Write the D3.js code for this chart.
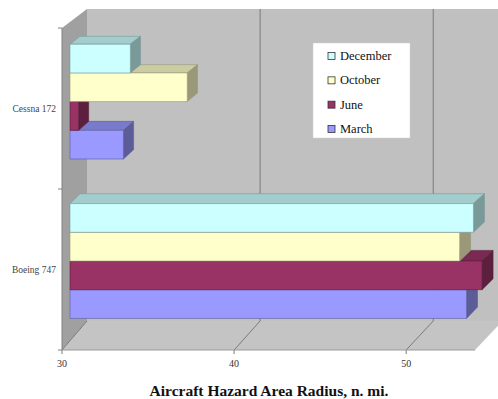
<!DOCTYPE html>
<html><head><meta charset="utf-8">
<script src="https://cdn.jsdelivr.net/npm/d3@7"></script>
<style>html,body{margin:0;padding:0;background:#fff;}svg{display:block;}</style>
</head><body>
<svg id="chart" width="498" height="399"></svg>
<script>
// ---- data ----
const categories = ["Cessna 172", "Boeing 747"];
const series = ["December", "October", "June", "March"];
const cessnaValues = [33.5, 36.8, 30.5, 33.1];   // December, October, June, March
const boeingValues = [53.4, 52.6, 53.9, 53.0];
const tickValues = [30, 40, 50];
const axisTitle = "Aircraft Hazard Area Radius, n. mi.";
const values = { "Cessna 172": cessnaValues, "Boeing 747": boeingValues };

const colors = {
  "December": ["#CCFFFF", "#A3CCCC", "#7A9999"],
  "October":  ["#FFFFCC", "#CCCCA3", "#99997A"],
  "June":     ["#993366", "#7A2952", "#5C1F3D"],
  "March":    ["#9999FF", "#7A7ACC", "#5C5C99"]
};

const svg = d3.select("#chart");

// front-plane scales
const x = d3.scaleLinear().domain([30, 54]).range([62, 475]);
const y0 = d3.scaleBand().domain(categories).range([28, 350]).padding(0);
const y1 = d3.scaleBand().domain(series).range([0, y0.bandwidth()]).paddingInner(0).paddingOuter(0.776);

// pseudo-3D projection: t = depth (0 front, 1 back)
function P(xf, yf, t) {
  const bx = 87 + (xf - 62) * 1.006;
  const by = -18.13 + 0.9689 * yf;
  return [xf + t * (bx - xf), yf + t * (by - yf)];
}
const poly = pts => pts.map(p => p.join(",")).join(" ");

const X0 = x.range()[0], X1 = x.range()[1];
const Y0 = y0.range()[0], Y1 = y0.range()[1];

// back wall
svg.append("polygon").attr("points", poly([P(X0,Y0,1),P(X1,Y0,1),P(X1,Y1,1),P(X0,Y1,1)]))
  .attr("fill", "#C0C0C0");
// left wall
svg.append("polygon").attr("points", poly([P(X0,Y0,0),P(X0,Y0,1),P(X0,Y1,1),P(X0,Y1,0)]))
  .attr("fill", "#A0A0A0");
// floor
svg.append("polygon").attr("points", poly([P(X0,Y1,0),P(X1,Y1,0),P(X1,Y1,1),P(X0,Y1,1)]))
  .attr("fill", "#C4C4C4");

// gridlines on back wall and floor
tickValues.forEach(v => {
  if (v > 30) {
    const a = P(x(v), Y0, 1), b = P(x(v), Y1, 1);
    svg.append("line").attr("x1", a[0]).attr("y1", a[1]).attr("x2", b[0]).attr("y2", b[1])
      .attr("stroke", "#7A7A7A").attr("stroke-width", 1);
  }
  const c = P(x(v), Y1, 0), d = P(x(v), Y1, 1);
  svg.append("line").attr("x1", c[0]).attr("y1", c[1]).attr("x2", d[0]).attr("y2", d[1])
    .attr("stroke", "#7A7A7A").attr("stroke-width", 1);
  svg.append("line").attr("x1", x(v)).attr("y1", Y1).attr("x2", x(v)).attr("y2", Y1 + 4)
    .attr("stroke", "#7A7A7A").attr("stroke-width", 1);
  svg.append("text").attr("x", x(v)).attr("y", Y1 + 17).attr("text-anchor", "middle")
    .attr("font-family", "Liberation Serif, serif").attr("font-size", 10).attr("fill", "#333")
    .text(v);
});

// floor front edge & left edge
svg.append("line").attr("x1", X0).attr("y1", Y1).attr("x2", X1).attr("y2", Y1)
  .attr("stroke", "#9a9a9a").attr("stroke-width", 1);
svg.append("line").attr("x1", X0).attr("y1", Y0).attr("x2", X0).attr("y2", Y1)
  .attr("stroke", "#808080").attr("stroke-width", 1);

// category ticks and labels
[Y0, Y0 + y0.bandwidth(), Y1].forEach(yy => {
  svg.append("line").attr("x1", X0 - 4).attr("y1", yy).attr("x2", X0).attr("y2", yy)
    .attr("stroke", "#808080");
});
categories.forEach(c => {
  svg.append("text").attr("x", 56).attr("y", y0(c) + y0.bandwidth() / 2 + 3)
    .attr("text-anchor", "end").attr("font-family", "Liberation Serif, serif")
    .attr("font-size", 9.5).attr("fill", "#444").text(c);
});

// bars
const t0 = 0.32, t1 = 0.72;
const drawOrder = series.slice().reverse(); // bottom bar first
categories.forEach(c => {
  drawOrder.forEach(s => {
    const v = values[c][series.indexOf(s)];
    const yt = y0(c) + y1(s), yb = yt + y1.bandwidth();
    const xa = x(30), xb = x(v);
    const [cf, ct, cs] = colors[s];
    const g = svg.append("g");
    g.append("polygon").attr("points", poly([P(xa,yt,t0),P(xb,yt,t0),P(xb,yt,t1),P(xa,yt,t1)]))
      .attr("fill", ct).attr("stroke", cs).attr("stroke-width", 0.6);
    g.append("polygon").attr("points", poly([P(xb,yt,t0),P(xb,yt,t1),P(xb,yb,t1),P(xb,yb,t0)]))
      .attr("fill", cs).attr("stroke", cs).attr("stroke-width", 0.6);
    g.append("polygon").attr("points", poly([P(xa,yt,t0),P(xb,yt,t0),P(xb,yb,t0),P(xa,yb,t0)]))
      .attr("fill", cf).attr("stroke", cs).attr("stroke-width", 0.6);
  });
});

// legend
const lg = svg.append("g");
lg.append("rect").attr("x", 313).attr("y", 43).attr("width", 97).attr("height", 95)
  .attr("fill", "#fff").attr("stroke", "#d0d0d0").attr("stroke-width", 0.5);
const ly = d3.scalePoint().domain(series).range([56, 129]);
series.forEach(s => {
  lg.append("rect").attr("x", 328).attr("y", ly(s) - 3.5).attr("width", 7).attr("height", 7)
    .attr("fill", colors[s][0]).attr("stroke", "#333").attr("stroke-width", 0.8);
  lg.append("text").attr("x", 340).attr("y", ly(s) + 4)
    .attr("font-family", "Liberation Serif, serif").attr("font-size", 12.5).attr("fill", "#111")
    .text(s);
});

// axis title
svg.append("text").attr("x", 269).attr("y", 396).attr("text-anchor", "middle")
  .attr("font-family", "Liberation Serif, serif").attr("font-weight", "bold")
  .attr("font-size", 15.5).attr("fill", "#111").text(axisTitle);
</script>
</body></html>
